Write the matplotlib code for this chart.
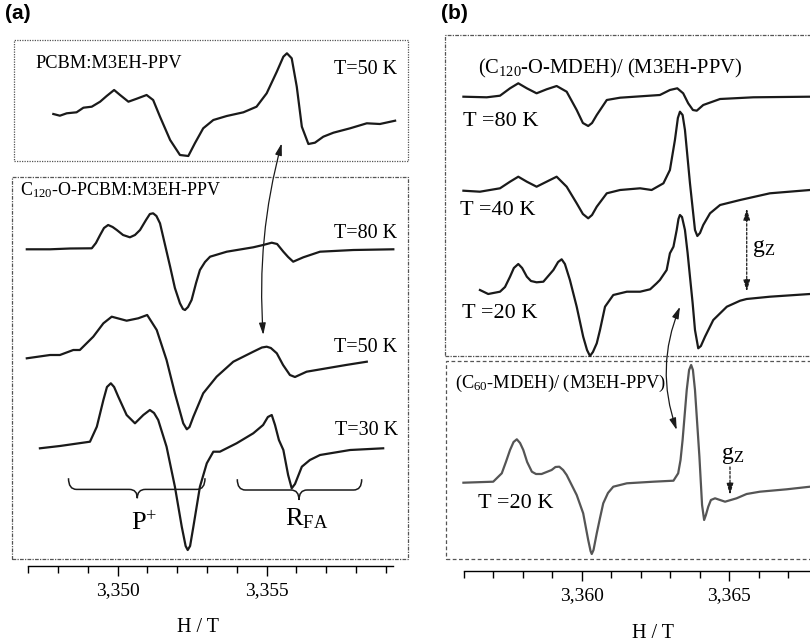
import matplotlib.pyplot as plt
from matplotlib.patches import Rectangle, FancyArrowPatch, PathPatch
from matplotlib.path import Path
from matplotlib.ticker import MultipleLocator, FuncFormatter

plt.rcParams['font.family'] = ['Liberation Serif', 'DejaVu Serif']
plt.rcParams['mathtext.fontset'] = 'custom'
plt.rcParams['mathtext.rm'] = 'Liberation Serif'
plt.rcParams['mathtext.it'] = 'Liberation Serif:italic'

# ---------------- panel (a) spectra: field (T) and EPR signal (a.u.) ----------------
pcbm_50_field = [3.34784, 3.34806, 3.34829, 3.34862, 3.34885, 3.34913, 3.34941, 3.34963,
                 3.34988, 3.35008, 3.35036, 3.35064, 3.35097, 3.35119, 3.35142, 3.35176,
                 3.35209, 3.35237, 3.35259, 3.35287, 3.35321, 3.35366, 3.35422, 3.35466,
                 3.35500, 3.35534, 3.35556, 3.35568, 3.35584, 3.35601, 3.35618, 3.35640,
                 3.35662, 3.35690, 3.35724, 3.35780, 3.35836, 3.35880, 3.35931]
pcbm_50_sig = [0, -1.7, 0.7, 1.7, 6.3, 7.3, 12.3, 18, 24, 19, 12.3, 15.3, 19, 14, -2.7, -26,
               -41, -42, -29.3, -14.3, -6, -2, 1.7, 7.3, 20.7, 42.3, 57.3, 60.7, 55.7, 27.3,
               -12.7, -30, -28.7, -22.7, -18.7, -14.3, -9.3, -10, -6.7]

c120_80_field = [3.34695, 3.34773, 3.34840, 3.34913, 3.34927, 3.34941, 3.34954, 3.34968,
                 3.34983, 3.34997, 3.35018, 3.35041, 3.35058, 3.35075, 3.35095, 3.35108,
                 3.35119, 3.35130, 3.35142, 3.35159, 3.35176, 3.35192, 3.35209, 3.35219,
                 3.35226, 3.35236, 3.35248, 3.35263, 3.35276, 3.35293, 3.35310, 3.35366,
                 3.35455, 3.35488, 3.35517, 3.35535, 3.35556, 3.35572, 3.35589, 3.35602,
                 3.35623, 3.35679, 3.35791, 3.35925]
c120_80_sig = [0, 0, 0.8, 1, 6.3, 14.3, 21.3, 24.3, 22.3, 19.3, 14.3, 12, 14.3, 19.3, 29.3,
               35.3, 36, 33.3, 26, 4.3, -17.4, -38.7, -54, -59.7, -60.7, -57.7, -50.7, -33.7,
               -20.7, -12.7, -7.4, -2.4, 2, 4.3, 6.6, 5.3, -2.4, -7.7, -12.4, -10.7, -8,
               -2.4, -0.7, 0]

c120_50_field = [3.34695, 3.34773, 3.34806, 3.34851, 3.34873, 3.34918, 3.34952, 3.34980,
                 3.35030, 3.35069, 3.35099, 3.35114, 3.35131, 3.35164, 3.35192, 3.35220,
                 3.35232, 3.35241, 3.35254, 3.35287, 3.35332, 3.35388, 3.35455, 3.35484,
                 3.35500, 3.35514, 3.35534, 3.35555, 3.35578, 3.35595, 3.35634, 3.35701,
                 3.35766, 3.35836]
c120_50_sig = [0, 3.3, 3.3, 8.3, 8.3, 21.6, 35, 41.6, 37.6, 40, 43.3, 36.3, 28.3, -1.7, -35,
               -65, -71, -68.7, -58.4, -35, -18.4, -3.4, 6.6, 10.8, 11.6, 10.3, 5, -6.7,
               -16.7, -18.7, -13.4, -10, -6.7, -3.4]

c120_30_field = [3.34739, 3.34806, 3.34907, 3.34930, 3.34952, 3.34964, 3.34977, 3.34988,
                 3.35002, 3.35030, 3.35058, 3.35086, 3.35108, 3.35122, 3.35136, 3.35164,
                 3.35192, 3.35215, 3.35228, 3.35235, 3.35243, 3.35254, 3.35276, 3.35299,
                 3.35321, 3.35343, 3.35399, 3.35455, 3.35488, 3.35504, 3.35517, 3.35528,
                 3.35541, 3.35556, 3.35572, 3.35584, 3.35595, 3.35618, 3.35645, 3.35679,
                 3.35780, 3.35891]
c120_30_sig = [-0.3, 2, 6.3, 21.3, 48, 61, 64.7, 61, 51.3, 33, 24.7, 33, 38, 35, 28, 1.3,
               -38.7, -78.7, -98, -102, -98, -78.7, -38.7, -15.3, -3.7, -3.7, 4.7, 14.7, 23,
               31, 33, 23, 8, -2, -27, -40.3, -36, -18.7, -12, -7, -2, -0.3]

# ---------------- panel (b) spectra ----------------
mdeh_80_field = [3.35599, 3.35678, 3.35723, 3.35757, 3.35785, 3.35814, 3.35847, 3.35881,
                 3.35915, 3.35949, 3.35983, 3.36004, 3.36022, 3.36035, 3.36051, 3.36085,
                 3.36130, 3.36265, 3.36299, 3.36324, 3.36344, 3.36361, 3.36377, 3.36390,
                 3.36412, 3.36469, 3.36582, 3.36774]
mdeh_80_sig = [0, -0.6, 1, 8.4, 13.4, 8.4, 3.4, 7.4, 10.7, 5, -13.3, -26.3, -29.3, -26.3,
               -18.3, -3.3, -1, 1.7, 6.7, 8.4, 3.4, -6.6, -13.3, -14, -8.3, -2.3, -0.6, 0]

mdeh_40_field = [3.35599, 3.35655, 3.35689, 3.35723, 3.35757, 3.35785, 3.35814, 3.35847,
                 3.35881, 3.35915, 3.35949, 3.35983, 3.36004, 3.36022, 3.36035, 3.36051,
                 3.36085, 3.36130, 3.36198, 3.36237, 3.36277, 3.36299, 3.36316, 3.36326,
                 3.36333, 3.36342, 3.36350, 3.36367, 3.36384, 3.36392, 3.36401, 3.36412,
                 3.36435, 3.36469, 3.36537, 3.36638, 3.36774]
mdeh_40_sig = [0, -1, 0.7, 2.4, 9, 14, 9, 4, 9, 14, 4, -12.6, -23.3, -27.6, -24.3, -16, -2.6,
               0.7, 2.4, 0.7, 7.4, 20.7, 50.7, 72.7, 79, 75.7, 60.7, 7.4, -39.3, -45.3,
               -42.3, -34.3, -22.6, -14.3, -9.3, -2.6, 0.7]

mdeh_20_field = [3.35655, 3.35683, 3.35723, 3.35740, 3.35757, 3.35770, 3.35785, 3.35798,
                 3.35814, 3.35828, 3.35847, 3.35870, 3.35904, 3.35920, 3.35932, 3.35943,
                 3.35960, 3.35983, 3.36005, 3.36018, 3.36028, 3.36038, 3.36051, 3.36062,
                 3.36079, 3.36107, 3.36153, 3.36198, 3.36232, 3.36254, 3.36265, 3.36288,
                 3.36299, 3.36311, 3.36322, 3.36328, 3.36333, 3.36340, 3.36350, 3.36359,
                 3.36367, 3.36376, 3.36384, 3.36395, 3.36404, 3.36418, 3.36446, 3.36492,
                 3.36537, 3.36559, 3.36638, 3.36774]
mdeh_20_sig = [1.7, -2.3, 0, 4.7, 15, 23.7, 27.7, 23.7, 15, 10.7, 9.4, 10, 21.7, 29.7, 32.4,
               27.7, 11.7, -15, -45, -58.3, -64.3, -60.3, -51.6, -38.3, -15, -3.3, 0, 0, 2.4,
               8.4, 11.7, 21.7, 38.4, 45, 61.7, 72.7, 76.7, 74.7, 61.7, 38.7, 15, -11.3,
               -38.3, -56.6, -54.3, -45, -28.3, -15, -9, -7.3, -5, -2.3]

c60_20_field = [3.35599, 3.35700, 3.35729, 3.35743, 3.35757, 3.35769, 3.35780, 3.35791,
                3.35802, 3.35815, 3.35831, 3.35845, 3.35864, 3.35898, 3.35911, 3.35924,
                3.35937, 3.35949, 3.35983, 3.36005, 3.36022, 3.36030, 3.36034, 3.36040,
                3.36051, 3.36062, 3.36073, 3.36089, 3.36107, 3.36153, 3.36243, 3.36311,
                3.36327, 3.36335, 3.36342, 3.36356, 3.36364, 3.36371, 3.36377, 3.36384,
                3.36399, 3.36408, 3.36415, 3.36421, 3.36429, 3.36438, 3.36452, 3.36469,
                3.36486, 3.36525, 3.36559, 3.36604, 3.36695, 3.36774]
c60_20_sig = [-0.2, 0.8, 9.2, 20.5, 32.5, 40.5, 43.2, 39.5, 32.5, 20.5, 10.8, 8.5, 8.5, 12.5,
              15.5, 15.8, 12.5, 7.5, -12.5, -30.8, -57.5, -68.5, -71.5, -67.5, -50.8, -35.5,
              -20.8, -10.5, -4.2, -0.8, 0.8, 1.8, 9.2, 22.5, 42.5, 92.5, 112.5, 117.5, 112.5,
              92.5, 25.8, -22.5, -37.5, -32.5, -24.2, -17.5, -15.8, -17.5, -19.2, -15.8,
              -11.5, -9.2, -6.8, -4.2]

BLACK = '#1a1a1a'
GRAY = '#555555'
W, H = 810, 642

fig = plt.figure(figsize=(8.1, 6.42), dpi=100)
axa = fig.add_axes([10 / W, (H - 565.7) / H, 400 / W, 535.7 / H])
axb = fig.add_axes([440 / W, (H - 570.7) / H, 370 / W, 540.7 / H])


def comma_fmt(x, pos):
    return f'{x:.3f}'.replace('.', ',')


def style_axis(ax, xlim, ylim, majors, bounds):
    ax.set_xlim(*xlim)
    ax.set_ylim(*ylim)
    for s in ['left', 'top', 'right']:
        ax.spines[s].set_visible(False)
    ax.spines['bottom'].set_bounds(*bounds)
    ax.spines['bottom'].set_linewidth(1.0)
    ax.set_yticks([])
    ax.set_xticks(majors)
    ax.xaxis.set_major_formatter(FuncFormatter(comma_fmt))
    ax.xaxis.set_minor_locator(MultipleLocator(0.001))
    ax.tick_params(axis='x', which='major', length=7, width=1, labelsize=14, pad=5)
    ax.tick_params(axis='x', which='minor', length=5, width=1)
    ax.patch.set_visible(False)


style_axis(axa, (3.346386, 3.359810), (0, 535.7), [3.350, 3.355], (3.347, 3.35924))
style_axis(axb, (3.355196, 3.367739), (0, 540.7), [3.360, 3.365], (3.356, 3.3680))
axa.set_xlabel('H / T', fontsize=14.5)
axa.xaxis.set_label_coords(0.47, -0.098)
axb.set_xlabel('H / T', fontsize=14.5)
axb.xaxis.set_label_coords(0.576, -0.098)


def trace(ax, fx, sig, base, color=BLACK):
    ax.plot(fx, [base + v for v in sig], color=color, lw=1.6, solid_joinstyle='round',
            clip_on=False)


# panel (a) curves with vertical offsets
trace(axa, pcbm_50_field, pcbm_50_sig, 451.7)
trace(axa, c120_80_field, c120_80_sig, 316.4)
trace(axa, c120_50_field, c120_50_sig, 207.4)
trace(axa, c120_30_field, c120_30_sig, 117.7)

# panel (b) curves
trace(axb, mdeh_80_field, mdeh_80_sig, 474.0)
trace(axb, mdeh_40_field, mdeh_40_sig, 380.0)
trace(axb, mdeh_20_field, mdeh_20_sig, 279.0)
trace(axb, c60_20_field, c60_20_sig, 88.2, color=GRAY)

# frames around the sample groups
box_kw = dict(fill=False, lw=0.9, clip_on=False)
axa.add_patch(Rectangle((3.346520, 404.7), 0.013223, 121.0, ec='#555555',
                        ls=(0, (1, 1)), **box_kw))
axa.add_patch(Rectangle((3.346453, 6.7), 0.013290, 382.0, ec='#555555',
                        ls=(0, (3, 1, 1, 1)), **box_kw))
axb.add_patch(Rectangle((3.355366, 215.0), 0.0130, 320.7, ec='#555555',
                        ls=(0, (3, 1, 1, 1)), **box_kw))
axb.add_patch(Rectangle((3.355400, 12.2), 0.0130, 197.8, ec='#555555',
                        ls=(0, (3, 2)), **box_kw))

# labels panel (a)
axa.text(3.347225, 502.7, 'PCBM:M3EH-PPV', fontsize=13.2, va='center', ha='left')
axa.text(3.359373, 496.7, 'T=50 K', fontsize=14.5, va='center', ha='right')
axa.text(3.346721, 375.7, r'C$_{\mathrm{120}}$-O-PCBM:M3EH-PPV', fontsize=13,
         va='center', ha='left')
axa.text(3.359373, 332.7, 'T=80 K', fontsize=14.5, va='center', ha='right')
axa.text(3.359373, 218.7, 'T=50 K', fontsize=14.5, va='center', ha='right')
axa.text(3.359400, 135.7, 'T=30 K', fontsize=14.5, va='center', ha='right')
axa.text(3.350883, 42.7, r'P$^{+}$', fontsize=19, va='center', ha='center')
axa.text(3.355615, 47.0, r'R$_{\mathrm{FA}}$', fontsize=19, va='center', ha='left')


def brace(ax, x0, x1, xt, ye, yf, yt, dx):
    verts = [(x0, ye), (x0, yf), (x0 + dx, yf), (xt - dx, yf), (xt, yf), (xt, yt),
             (xt, yf), (xt + dx, yf), (x1 - dx, yf), (x1, yf), (x1, ye)]
    codes = [Path.MOVETO, Path.CURVE3, Path.CURVE3, Path.LINETO, Path.CURVE3, Path.CURVE3,
             Path.CURVE3, Path.CURVE3, Path.LINETO, Path.CURVE3, Path.CURVE3]
    ax.add_patch(PathPatch(Path(verts, codes), fill=False, lw=1.1, ec=BLACK))


brace(axa, 3.348349, 3.352930, 3.350658, 87.5, 76.3, 67.5, 0.00027)
brace(axa, 3.354014, 3.358189, 3.356085, 86.5, 75.7, 65.7, 0.00027)

arrow_kw = dict(arrowstyle='<|-|>,head_length=0.7,head_width=0.2', mutation_scale=10,
                lw=0.9, color=BLACK, shrinkA=0, shrinkB=0)
axa.add_patch(FancyArrowPatch((3.355504, 422.4), (3.354886, 230.7),
                              connectionstyle='arc3,rad=0.085', **arrow_kw))

# labels panel (b)
axb.text(3.356485, 502.7, r'(C$_{\mathrm{120}}$-O-MDEH)/ (M3EH-PPV)', fontsize=14.8,
         va='center', ha='left')
axb.text(3.355976, 448.7, 'T =80 K', fontsize=16, va='center', ha='left')
axb.text(3.355874, 360.7, 'T =40 K', fontsize=16, va='center', ha='left')
axb.text(3.355942, 257.7, 'T =20 K', fontsize=16, va='center', ha='left')
axb.text(3.355705, 187.7, r'(C$_{\mathrm{60}}$-MDEH)/ (M3EH-PPV)', fontsize=13.2,
         va='center', ha='left')
axb.text(3.356485, 67.7, 'T =20 K', fontsize=16, va='center', ha='left')
axb.text(3.365773, 322.7, r'g$_{\mathrm{Z}}$', fontsize=17, va='center', ha='left')
axb.text(3.364722, 115.7, r'g$_{\mathrm{Z}}$', fontsize=17, va='center', ha='left')

axb.add_patch(FancyArrowPatch((3.363332, 264.0), (3.363221, 140.7),
                              connectionstyle='arc3,rad=0.19', **arrow_kw))
dash_kw = dict(mutation_scale=10, lw=0.9, color=BLACK, shrinkA=0, shrinkB=0,
               linestyle=(0, (2, 1.5)))
axb.add_patch(FancyArrowPatch((3.365594, 362.4), (3.365594, 279.0),
                              arrowstyle='<|-|>,head_length=0.7,head_width=0.2', **dash_kw))
axb.add_patch(FancyArrowPatch((3.365027, 103.7), (3.365027, 75.7),
                              arrowstyle='-|>,head_length=0.7,head_width=0.2', **dash_kw))

# panel letters
fig.text(5 / W, 1 - 4 / H, '(a)', fontsize=15, fontweight='bold', va='top', ha='left',
         family=['Liberation Sans', 'DejaVu Sans'])
fig.text(441 / W, 1 - 4 / H, '(b)', fontsize=15, fontweight='bold', va='top', ha='left',
         family=['Liberation Sans', 'DejaVu Sans'])

fig.savefig('out.png', dpi=100)
